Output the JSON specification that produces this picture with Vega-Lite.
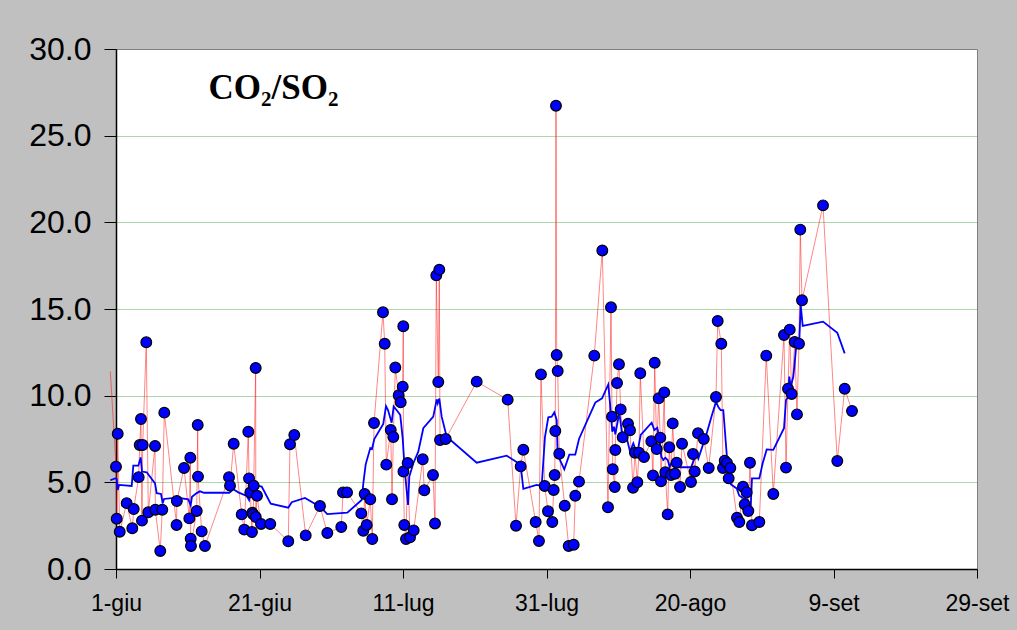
{
  "$schema": "https://vega.github.io/schema/vega-lite/v6.json",
  "width": 861,
  "height": 520,
  "autosize": {"type": "none"},
  "padding": {"left": 116, "top": 49, "right": 40, "bottom": 61},
  "background": "#c0c0c0",
  "config": {
    "view": {"fill": "white", "stroke": "#808080", "strokeWidth": 1},
    "axis": {"labelFont": "Liberation Sans", "labelColor": "black", "domainColor": "black", "tickColor": "black"}
  },
  "datasets": {
    "obs": [
      {"day": -0.79, "ratio": 11.4},
      {"day": 0.0, "ratio": 5.9},
      {"day": 0.1, "ratio": 2.9},
      {"day": 0.24, "ratio": 7.8},
      {"day": 0.52, "ratio": 2.15},
      {"day": 1.49, "ratio": 3.8},
      {"day": 2.27, "ratio": 2.35},
      {"day": 2.47, "ratio": 3.46},
      {"day": 3.16, "ratio": 5.3},
      {"day": 3.3, "ratio": 7.15},
      {"day": 3.48, "ratio": 8.65},
      {"day": 3.62, "ratio": 2.79},
      {"day": 3.72, "ratio": 7.15},
      {"day": 4.22, "ratio": 13.08},
      {"day": 4.5, "ratio": 3.27},
      {"day": 5.44, "ratio": 7.1},
      {"day": 5.48, "ratio": 3.42},
      {"day": 6.17, "ratio": 1.04},
      {"day": 6.45, "ratio": 3.42},
      {"day": 6.73, "ratio": 9.02},
      {"day": 8.44, "ratio": 2.54},
      {"day": 8.48, "ratio": 3.92},
      {"day": 9.48, "ratio": 5.83},
      {"day": 10.22, "ratio": 2.92},
      {"day": 10.36, "ratio": 6.42},
      {"day": 10.41, "ratio": 1.75},
      {"day": 10.45, "ratio": 1.33},
      {"day": 11.25, "ratio": 3.35},
      {"day": 11.39, "ratio": 8.31},
      {"day": 11.43, "ratio": 5.33},
      {"day": 11.94, "ratio": 2.17},
      {"day": 12.4, "ratio": 1.33},
      {"day": 15.75, "ratio": 5.3},
      {"day": 15.89, "ratio": 4.81},
      {"day": 16.4, "ratio": 7.23},
      {"day": 17.52, "ratio": 3.15},
      {"day": 17.88, "ratio": 2.27},
      {"day": 18.44, "ratio": 7.92},
      {"day": 18.54, "ratio": 5.23},
      {"day": 18.72, "ratio": 4.42},
      {"day": 18.95, "ratio": 2.13},
      {"day": 19.0, "ratio": 3.25},
      {"day": 19.14, "ratio": 3.15},
      {"day": 19.19, "ratio": 4.81},
      {"day": 19.47, "ratio": 11.6},
      {"day": 19.48, "ratio": 3.0},
      {"day": 19.65, "ratio": 4.23},
      {"day": 20.21, "ratio": 2.6},
      {"day": 21.5, "ratio": 2.6},
      {"day": 24.01, "ratio": 1.6},
      {"day": 24.25, "ratio": 7.2},
      {"day": 24.85, "ratio": 7.73},
      {"day": 26.44, "ratio": 1.94},
      {"day": 28.43, "ratio": 3.63},
      {"day": 29.45, "ratio": 2.08},
      {"day": 31.4, "ratio": 2.42},
      {"day": 31.64, "ratio": 4.42},
      {"day": 32.2, "ratio": 4.42},
      {"day": 34.19, "ratio": 3.21},
      {"day": 34.47, "ratio": 2.21},
      {"day": 34.66, "ratio": 4.33},
      {"day": 34.94, "ratio": 2.54},
      {"day": 35.44, "ratio": 4.02},
      {"day": 35.72, "ratio": 1.73},
      {"day": 35.96, "ratio": 8.42},
      {"day": 37.21, "ratio": 14.81},
      {"day": 37.45, "ratio": 13.0},
      {"day": 37.67, "ratio": 6.02},
      {"day": 38.29, "ratio": 8.02},
      {"day": 38.47, "ratio": 4.02},
      {"day": 38.65, "ratio": 7.62},
      {"day": 38.93, "ratio": 11.62},
      {"day": 39.4, "ratio": 10.02},
      {"day": 39.68, "ratio": 9.62},
      {"day": 39.96, "ratio": 10.52},
      {"day": 40.04, "ratio": 14.0},
      {"day": 40.06, "ratio": 5.63},
      {"day": 40.18, "ratio": 2.54},
      {"day": 40.42, "ratio": 1.73},
      {"day": 40.65, "ratio": 6.12},
      {"day": 40.98, "ratio": 1.83},
      {"day": 41.49, "ratio": 2.23},
      {"day": 42.75, "ratio": 6.33},
      {"day": 42.97, "ratio": 4.54},
      {"day": 44.18, "ratio": 5.42},
      {"day": 44.46, "ratio": 2.63},
      {"day": 44.64, "ratio": 16.94},
      {"day": 44.92, "ratio": 10.79},
      {"day": 45.06, "ratio": 17.27},
      {"day": 45.16, "ratio": 7.44},
      {"day": 45.95, "ratio": 7.5},
      {"day": 50.27, "ratio": 10.81},
      {"day": 54.59, "ratio": 9.77},
      {"day": 55.75, "ratio": 2.5},
      {"day": 56.4, "ratio": 5.92},
      {"day": 56.77, "ratio": 6.88},
      {"day": 58.49, "ratio": 2.71},
      {"day": 58.95, "ratio": 1.62},
      {"day": 59.23, "ratio": 11.23},
      {"day": 59.75, "ratio": 4.79},
      {"day": 60.21, "ratio": 3.33},
      {"day": 60.81, "ratio": 2.71},
      {"day": 61.0, "ratio": 4.56},
      {"day": 61.14, "ratio": 5.42},
      {"day": 61.23, "ratio": 7.96},
      {"day": 61.32, "ratio": 26.73},
      {"day": 61.42, "ratio": 12.35},
      {"day": 61.56, "ratio": 11.42},
      {"day": 61.78, "ratio": 6.65},
      {"day": 62.54, "ratio": 3.65},
      {"day": 63.09, "ratio": 1.33},
      {"day": 63.79, "ratio": 1.4},
      {"day": 64.01, "ratio": 4.23},
      {"day": 64.53, "ratio": 5.04},
      {"day": 66.66, "ratio": 12.31},
      {"day": 67.78, "ratio": 18.38},
      {"day": 68.57, "ratio": 3.56},
      {"day": 68.99, "ratio": 15.1},
      {"day": 69.13, "ratio": 8.79},
      {"day": 69.23, "ratio": 5.75},
      {"day": 69.51, "ratio": 4.73},
      {"day": 69.59, "ratio": 6.87},
      {"day": 69.83, "ratio": 10.73},
      {"day": 70.1, "ratio": 11.81},
      {"day": 70.34, "ratio": 9.21},
      {"day": 70.62, "ratio": 7.6},
      {"day": 71.36, "ratio": 8.38},
      {"day": 71.64, "ratio": 8.0},
      {"day": 72.06, "ratio": 4.69},
      {"day": 72.33, "ratio": 6.71},
      {"day": 72.66, "ratio": 5.0},
      {"day": 72.89, "ratio": 6.71},
      {"day": 73.07, "ratio": 11.29},
      {"day": 73.59, "ratio": 6.46},
      {"day": 74.61, "ratio": 7.37},
      {"day": 74.84, "ratio": 5.4},
      {"day": 75.08, "ratio": 11.9},
      {"day": 75.36, "ratio": 6.92},
      {"day": 75.64, "ratio": 9.85},
      {"day": 75.86, "ratio": 7.58},
      {"day": 75.96, "ratio": 5.06},
      {"day": 76.42, "ratio": 10.19},
      {"day": 76.56, "ratio": 5.58},
      {"day": 76.89, "ratio": 3.15},
      {"day": 77.11, "ratio": 7.02},
      {"day": 77.35, "ratio": 5.42},
      {"day": 77.59, "ratio": 8.4},
      {"day": 77.91, "ratio": 5.5},
      {"day": 78.14, "ratio": 6.13},
      {"day": 78.61, "ratio": 4.73},
      {"day": 78.89, "ratio": 7.23},
      {"day": 80.14, "ratio": 5.02},
      {"day": 80.42, "ratio": 6.63},
      {"day": 80.66, "ratio": 5.63},
      {"day": 81.12, "ratio": 7.83},
      {"day": 81.92, "ratio": 7.5},
      {"day": 82.61, "ratio": 5.83},
      {"day": 83.62, "ratio": 9.92},
      {"day": 83.86, "ratio": 14.31},
      {"day": 84.36, "ratio": 13.0},
      {"day": 84.6, "ratio": 5.83},
      {"day": 84.84, "ratio": 6.25},
      {"day": 85.16, "ratio": 6.12},
      {"day": 85.39, "ratio": 5.23},
      {"day": 85.62, "ratio": 5.83},
      {"day": 86.55, "ratio": 2.96},
      {"day": 86.87, "ratio": 2.71},
      {"day": 87.39, "ratio": 4.75},
      {"day": 87.62, "ratio": 3.73},
      {"day": 87.9, "ratio": 4.42},
      {"day": 88.13, "ratio": 3.35},
      {"day": 88.36, "ratio": 6.13},
      {"day": 88.64, "ratio": 2.52},
      {"day": 89.66, "ratio": 2.71},
      {"day": 90.63, "ratio": 12.31},
      {"day": 91.61, "ratio": 4.33},
      {"day": 93.1, "ratio": 13.5},
      {"day": 93.38, "ratio": 5.85},
      {"day": 93.66, "ratio": 10.4},
      {"day": 93.9, "ratio": 13.81},
      {"day": 94.17, "ratio": 10.1},
      {"day": 94.59, "ratio": 13.1},
      {"day": 94.91, "ratio": 8.92},
      {"day": 95.19, "ratio": 13.0},
      {"day": 95.37, "ratio": 19.58},
      {"day": 95.61, "ratio": 15.5},
      {"day": 98.54, "ratio": 20.98},
      {"day": 100.53, "ratio": 6.23},
      {"day": 101.56, "ratio": 10.4},
      {"day": 102.58, "ratio": 9.12}
    ],
    "avg": [
      {"day": -0.79, "ratio": 5.12},
      {"day": -0.14, "ratio": 5.23},
      {"day": 0.1, "ratio": 5.2},
      {"day": 0.24, "ratio": 4.56},
      {"day": 0.42, "ratio": 4.85},
      {"day": 2.19, "ratio": 4.79},
      {"day": 2.41, "ratio": 5.96},
      {"day": 3.11, "ratio": 5.96},
      {"day": 3.44, "ratio": 6.44},
      {"day": 3.62, "ratio": 5.62},
      {"day": 4.28, "ratio": 5.58},
      {"day": 5.44, "ratio": 4.94},
      {"day": 5.67, "ratio": 4.37},
      {"day": 6.27, "ratio": 4.33},
      {"day": 6.51, "ratio": 3.79},
      {"day": 6.69, "ratio": 4.04},
      {"day": 8.46, "ratio": 4.12},
      {"day": 10.08, "ratio": 4.02},
      {"day": 10.41, "ratio": 3.67},
      {"day": 10.59, "ratio": 4.17},
      {"day": 11.25, "ratio": 4.38},
      {"day": 11.71, "ratio": 4.48},
      {"day": 12.26, "ratio": 4.4},
      {"day": 15.79, "ratio": 4.4},
      {"day": 16.35, "ratio": 4.6},
      {"day": 17.05, "ratio": 4.42},
      {"day": 18.22, "ratio": 4.21},
      {"day": 18.54, "ratio": 3.98},
      {"day": 18.77, "ratio": 4.75},
      {"day": 19.83, "ratio": 4.79},
      {"day": 20.31, "ratio": 4.75},
      {"day": 21.56, "ratio": 3.77},
      {"day": 24.01, "ratio": 3.54},
      {"day": 24.49, "ratio": 3.85},
      {"day": 26.34, "ratio": 4.1},
      {"day": 28.43, "ratio": 3.6},
      {"day": 29.45, "ratio": 3.17},
      {"day": 32.24, "ratio": 3.25},
      {"day": 34.24, "ratio": 3.98},
      {"day": 34.47, "ratio": 4.94},
      {"day": 34.8, "ratio": 6.04},
      {"day": 35.44, "ratio": 6.98},
      {"day": 35.68, "ratio": 6.92},
      {"day": 36.0, "ratio": 7.5},
      {"day": 37.25, "ratio": 8.37},
      {"day": 37.63, "ratio": 9.4},
      {"day": 37.91, "ratio": 9.17},
      {"day": 38.42, "ratio": 8.44},
      {"day": 38.7, "ratio": 9.38},
      {"day": 39.07, "ratio": 9.19},
      {"day": 39.34, "ratio": 9.04},
      {"day": 39.62, "ratio": 8.88},
      {"day": 39.96, "ratio": 7.52},
      {"day": 40.24, "ratio": 5.71},
      {"day": 40.7, "ratio": 3.69},
      {"day": 40.88, "ratio": 5.33},
      {"day": 41.44, "ratio": 6.1},
      {"day": 42.13, "ratio": 6.77},
      {"day": 42.83, "ratio": 8.12},
      {"day": 44.22, "ratio": 8.79},
      {"day": 44.7, "ratio": 9.79},
      {"day": 44.84, "ratio": 9.56},
      {"day": 45.06, "ratio": 9.83},
      {"day": 45.39, "ratio": 8.79},
      {"day": 46.09, "ratio": 7.63},
      {"day": 50.27, "ratio": 6.13},
      {"day": 54.45, "ratio": 6.54},
      {"day": 55.93, "ratio": 6.15},
      {"day": 56.4, "ratio": 6.0},
      {"day": 56.77, "ratio": 4.62},
      {"day": 58.63, "ratio": 4.85},
      {"day": 59.33, "ratio": 4.79},
      {"day": 59.79, "ratio": 7.63},
      {"day": 60.25, "ratio": 8.75},
      {"day": 60.72, "ratio": 8.79},
      {"day": 61.09, "ratio": 9.04},
      {"day": 61.42, "ratio": 8.6},
      {"day": 61.56, "ratio": 6.58},
      {"day": 62.48, "ratio": 5.75},
      {"day": 63.18, "ratio": 6.6},
      {"day": 64.01, "ratio": 6.6},
      {"day": 64.53, "ratio": 7.5},
      {"day": 66.8, "ratio": 9.6},
      {"day": 67.74, "ratio": 9.85},
      {"day": 68.61, "ratio": 10.65},
      {"day": 68.85, "ratio": 9.56},
      {"day": 69.17, "ratio": 7.92},
      {"day": 69.41, "ratio": 8.21},
      {"day": 69.59, "ratio": 7.77},
      {"day": 70.15, "ratio": 9.02},
      {"day": 70.52, "ratio": 7.83},
      {"day": 71.08, "ratio": 7.73},
      {"day": 71.64, "ratio": 6.77},
      {"day": 72.1, "ratio": 7.25},
      {"day": 72.38, "ratio": 6.9},
      {"day": 72.66, "ratio": 6.73},
      {"day": 73.13, "ratio": 7.73},
      {"day": 74.66, "ratio": 8.44},
      {"day": 75.03, "ratio": 8.02},
      {"day": 75.44, "ratio": 8.15},
      {"day": 75.68, "ratio": 7.67},
      {"day": 76.0, "ratio": 6.48},
      {"day": 76.28, "ratio": 6.29},
      {"day": 76.56, "ratio": 6.42},
      {"day": 76.89, "ratio": 6.29},
      {"day": 77.17, "ratio": 5.9},
      {"day": 77.39, "ratio": 6.1},
      {"day": 78.61, "ratio": 5.87},
      {"day": 80.14, "ratio": 5.87},
      {"day": 80.93, "ratio": 6.67},
      {"day": 81.16, "ratio": 6.37},
      {"day": 82.23, "ratio": 7.69},
      {"day": 83.02, "ratio": 8.83},
      {"day": 83.62, "ratio": 9.65},
      {"day": 83.99, "ratio": 9.31},
      {"day": 84.27, "ratio": 9.17},
      {"day": 84.64, "ratio": 9.17},
      {"day": 85.34, "ratio": 5.42},
      {"day": 85.71, "ratio": 4.88},
      {"day": 86.51, "ratio": 4.65},
      {"day": 86.87, "ratio": 4.23},
      {"day": 87.43, "ratio": 4.08},
      {"day": 87.99, "ratio": 4.02},
      {"day": 88.22, "ratio": 3.79},
      {"day": 88.46, "ratio": 3.6},
      {"day": 88.64, "ratio": 5.23},
      {"day": 89.66, "ratio": 5.23},
      {"day": 90.13, "ratio": 6.1},
      {"day": 90.69, "ratio": 6.9},
      {"day": 91.61, "ratio": 6.87},
      {"day": 93.1, "ratio": 8.12},
      {"day": 93.38, "ratio": 9.75},
      {"day": 93.56, "ratio": 9.85},
      {"day": 93.7, "ratio": 10.23},
      {"day": 93.84, "ratio": 11.1},
      {"day": 94.03, "ratio": 10.52},
      {"day": 94.4, "ratio": 11.1},
      {"day": 94.63, "ratio": 12.06},
      {"day": 94.87, "ratio": 13.12},
      {"day": 95.01, "ratio": 12.83},
      {"day": 95.23, "ratio": 13.12},
      {"day": 95.43, "ratio": 15.23},
      {"day": 95.71, "ratio": 14.02},
      {"day": 98.54, "ratio": 14.27},
      {"day": 100.53, "ratio": 13.63},
      {"day": 101.56, "ratio": 12.44}
    ]
  },
  "layer": [
    {
      "data": {"name": "obs"},
      "mark": {"type": "line", "color": "#ff0000", "strokeWidth": 0.8, "opacity": 0.6, "clip": false},
      "encoding": {
        "x": {
          "field": "day",
          "type": "quantitative",
          "scale": {"domain": [0, 120], "nice": false, "zero": false},
          "axis": {
            "title": null,
            "values": [0, 20, 40, 60, 80, 100, 120],
            "labelExpr": "['1-giu','21-giu','11-lug','31-lug','20-ago','9-set','29-set'][round(datum.value / 20)]",
            "labelFontSize": 23,
            "labelPadding": 14,
            "tickSize": 9,
            "tickWidth": 1,
            "domainWidth": 1.5,
            "grid": false,
            "labelFlush": false,
            "labelOverlap": false
          }
        },
        "y": {
          "field": "ratio",
          "type": "quantitative",
          "scale": {"domain": [0, 30], "nice": false, "zero": true},
          "axis": {
            "title": null,
            "values": [0, 5, 10, 15, 20, 25, 30],
            "format": ".1f",
            "labelFontSize": 32,
            "labelPadding": 13,
            "tickSize": 12,
            "tickWidth": 1,
            "domainWidth": 1.5,
            "grid": true,
            "gridColor": "#2e9b2e",
            "gridDash": [1, 1],
            "gridWidth": 1,
            "gridOpacity": {"condition": {"test": "datum.value == 0 || datum.value == 30", "value": 0}, "value": 0.8},
            "labelFlush": false,
            "labelOverlap": false
          }
        }
      }
    },
    {
      "data": {"name": "avg"},
      "mark": {"type": "line", "color": "#0000ff", "strokeWidth": 1.8, "clip": false},
      "encoding": {
        "x": {"field": "day", "type": "quantitative"},
        "y": {"field": "ratio", "type": "quantitative"}
      }
    },
    {
      "data": {"name": "obs"},
      "transform": [{"filter": "datum.day >= -0.1"}],
      "mark": {"type": "point", "filled": true, "fill": "#0000ff", "stroke": "black", "strokeWidth": 1.2, "size": 115, "opacity": 1, "shape": "circle"},
      "encoding": {
        "x": {"field": "day", "type": "quantitative"},
        "y": {"field": "ratio", "type": "quantitative"}
      }
    },
    {
      "data": {"values": [{"label": "CO₂/SO₂"}]},
      "mark": {"type": "text", "font": "Liberation Serif", "fontWeight": "bold", "fontSize": 35, "align": "left", "baseline": "alphabetic", "color": "black"},
      "encoding": {
        "x": {"datum": 12.9, "type": "quantitative"},
        "y": {"datum": 27.1, "type": "quantitative"},
        "text": {"field": "label"}
      }
    }
  ]
}
